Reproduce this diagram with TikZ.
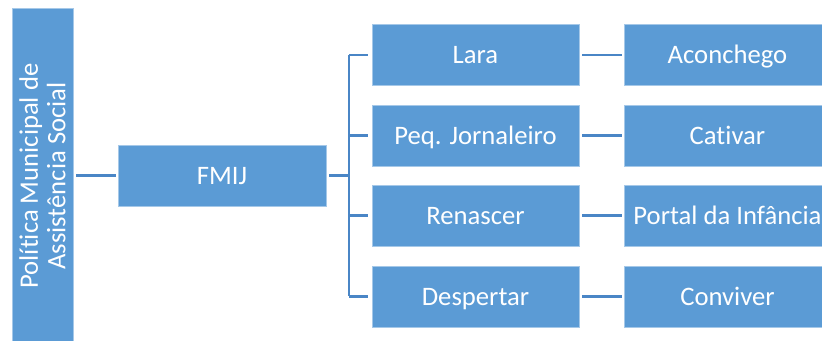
\documentclass[tikz,border=0pt]{standalone}
\usepackage{fontspec}
\setmainfont[Ligatures=NoCommon]{Carlito}
\definecolor{boxblue}{HTML}{5B9BD5}
\definecolor{linkblue}{HTML}{4A86C6}
\begin{document}
\begin{tikzpicture}[x=0.75pt,y=-0.75pt,
  box/.style={rectangle, fill=boxblue, draw=boxblue!55!white, line width=0.6pt,
    text=white, inner sep=0pt, font=\fontsize{20}{20.5}\selectfont,
    text height=14pt, text depth=1.2pt,
    minimum width=155.25pt, minimum height=45.75pt},
  link/.style={draw=linkblue, line width=1.9pt}]
\useasboundingbox (0,0) rectangle (822,341);
\path[clip] (0,0) rectangle (822,341);

% root (rotated) and second level
\node[box, rotate=90, align=center, minimum width=252pt,
  text height=, text depth=] (pol) at (42.5,176)
  {Política Municipal de\\Assistência Social};
\node[box, minimum width=156pt] (fmij) at (222,175.5) {FMIJ};

% programmes
\node[box] (lara) at (475.5,55)    {Lara};
\node[box] (peq)  at (475.5,135.5) {Peq. Jornaleiro};
\node[box] (ren)  at (475.5,215.5) {Renascer};
\node[box] (desp) at (475.5,296.5) {Despertar};

% partner units
\node[box] (acon) at (727.5,55)    {Aconchego};
\node[box] (cat)  at (727.5,135.5) {Cativar};
\node[box] (port) at (727.5,215.5) {Portal da Infância};
\node[box] (conv) at (727.5,296.5) {Conviver};

% connectors
\coordinate (br) at (349,175.5);
\draw[link, shorten <=2.25pt, shorten >=1.5pt] (fmij.west -| pol.south) -- (fmij.west);
\draw[link, shorten <=2.25pt] (fmij.east) -- (fmij.east -| br);
\draw[link] (lara.west -| br) -- (desp.west -| br);
\foreach \n in {lara,peq,ren,desp}
  \draw[link, shorten >=3pt] (\n.west -| br) -- (\n.west);
\draw[link, shorten <=2.25pt, shorten >=1.5pt] (lara.east) -- (acon.west);
\draw[link, shorten <=2.25pt, shorten >=1.5pt] (peq.east) -- (cat.west);
\draw[link, shorten <=2.25pt, shorten >=1.5pt] (ren.east) -- (port.west);
\draw[link, shorten <=2.25pt, shorten >=1.5pt] (desp.east) -- (conv.west);
\end{tikzpicture}
\end{document}
